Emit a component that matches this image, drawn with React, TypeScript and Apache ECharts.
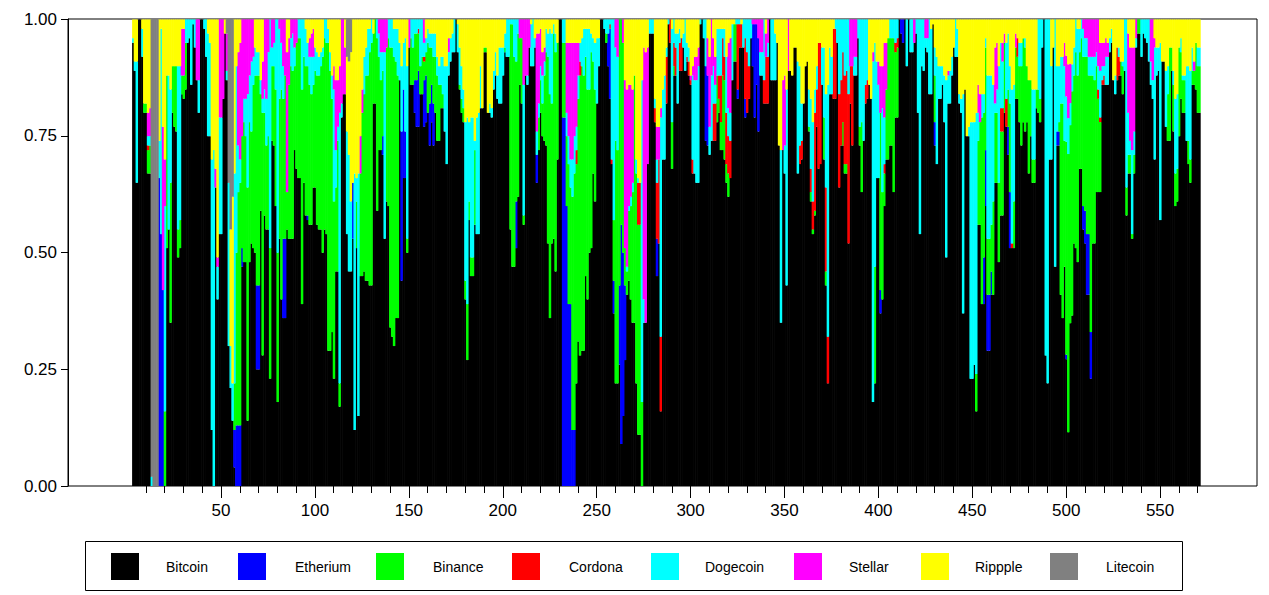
import React, { useEffect, useRef } from "react";
import * as echarts from "echarts";

// ---------- data (percent shares per bar) ----------
const seriesNames = ["Bitcoin", "Etherium", "Binance", "Cordona", "Dogecoin", "Stellar", "Rippple", "Litecoin"];
const seriesColors = ["#000000", "#0000ff", "#00ff00", "#ff0000", "#00ffff", "#ff00ff", "#ffff00", "#808080"];

// bar index where each block of values starts
const blockStarts = [0, 50, 102, 155, 207, 259, 311, 363, 415, 467, 519];
const barCount = 569;
const firstBarNumber = 3;

const yTicks = [0, 0.25, 0.5, 0.75, 1];
const xMinorTicks = [10, 20, 30, 40, 50, 60, 70, 80, 90, 100, 110, 120, 130, 140, 150, 160, 170, 180, 190, 200, 210, 220, 230, 240, 250, 260, 270, 280, 290, 300, 310, 320, 330, 340, 350, 360, 370, 380, 390, 400, 410, 420, 430, 440, 450, 460, 470, 480, 490, 500, 510, 520, 530, 540, 550, 560, 570];
const xMajorTicks = [50, 100, 150, 200, 250, 300, 350, 400, 450, 500, 550];

const bitcoin = [
  [95,89,65,100,100,92,80,80,67,67, 0,0,0,0,0,0,0,0,51,55, 35,80,77,76,49,51,84,83,85,95, 96,86,99,94,87,80,100,100,98,92, 75,75,12,0,64,40,54,54,83,97],
  [87,30,21,14,4,0,0,0,47,48, 48,14,48,52,51,50,25,25,59,28, 58,55,55,23,74,73,60,18,53,40, 36,36,55,53,53,53,72,68,66,66, 39,65,58,57,56,56,64,64,56,55, 55,50],
  [55,54,29,29,33,23,46,46,17,79, 84,84,54,46,46,53,12,51,15,45, 45,46,44,44,43,43,82,82,59,72, 72,71,53,61,60,34,32,30,36,36, 87,44,66,66,50,94,86,86,80,77, 77,84,84],
  [77,78,80,73,78,73,80,74,74,81, 81,76,69,88,91,93,93,100,93,85, 80,78,40,27,57,45,45,56,54,54, 81,81,93,93,80,80,79,85,88,83, 82,82,88,93,92,92,55,47,47,51, 62,86],
  [82,56,88,86,94,90,90,94,65,72, 80,75,74,73,52,36,52,53,46,70, 100,100,0,0,0,0,0,0,0,22, 31,28,29,29,45,40,50,51,67,61, 82,90,100,100,98,95,90,83,69,37, 22,22],
  [26,9,15,27,41,44,40,35,35,22, 11,11,0,35,35,69,97,97,97,78, 45,52,16,70,70,82,99,95,68,88, 88,82,89,89,94,89,91,88,86,67, 67,65,65,99,100,96,74,73,71,74, 74,74],
  [78,80,72,72,70,65,62,66,87,91, 91,83,94,94,94,79,80,83,96,90, 79,86,76,88,88,82,82,82,100,87, 87,87,95,73,35,72,67,43,89,89, 88,94,94,67,69,70,82,90,91,76, 61,54],
  [58,77,68,69,86,70,43,22,84,84, 83,83,95,64,73,73,67,67,52,82, 73,88,88,96,73,63,74,82,83,86, 83,18,22,66,66,37,40,60,70,70, 73,73,63,79,79,100,97,95,100,90, 100,93],
  [93,95,97,80,54,90,89,94,93,84, 84,99,73,69,83,83,86,78,49,82, 82,88,94,92,92,82,80,37,85,75, 75,23,23,26,16,56,56,39,39,60, 29,29,41,41,65,65,48,58,58,80, 77,71],
  [51,51,51,83,83,78,73,78,76,78, 67,75,65,65,81,80,78,94,100,28, 22,70,70,94,47,73,73,41,36,47, 28,12,37,38,52,51,48,68,68,55, 52,41,41,23,52,52,63,63,63,86, 86,86],
  [86,93,95,87,84,87,88,88,84,89, 58,67,67,53,67,94,97,97,92,97, 96,95,91,86,83,70,88,89,57,91, 91,77,74,74,89,76,60,61,75,83, 80,80,74,69,65,86,86,85,80,80],
];

const etherium = [
  [0,0,0,0,0,0,0,0,0,0, 0,0,0,0,66,54,42],
  [0,0,0,0,8,13,13,13,4,0, 0,0,0,0,0,0,18,18,0,0, 0,0,0,0,0,0,0,0,0,0, 17,17,0,0,0,0,0,0,0,0, 0,0,0,1],
  [0,0,0,0,0,0,0,0,0,0, 0,0,0,0,0,12,0,0,0,0, 0,0,0,0,0,0,0,0,0,0, 0,4,0,0,0,0,0,0,0,0, 0,32,19,10,0,0,0,0,7,10, 12],
  [10,10,0,9,8,9,0,0,0,0, 0,0,0,0,0,0,0,0,0,0, 0,0,0,0,0,0,0,0,0,0, 0,0,0,0,0,0,0,0,0,0, 0,0,0,0,0,0,0,0,0,10],
  [0,0,0,0,0,0,0,0,6,0, 0,0,0,0,0,0,0,0,0,0, 0,0,79,79,60,39,39,12,12,0, 0,0,0,0,0,0,0,0,0,0, 0,0,0,0,0,0,7,15,0,7],
  [17,47,35,16,0,0,0,0,0,0, 0,0,0,0,0,0,0,0,0,0, 8,0,0,0,0,0,0,0,0,0, 0,0,0,0,0,0,0,0,0,0, 0,0,0,0,0,0,16,15],
  [0,0,0,0,0,0,0,0,0,0, 0,2,0,0,0,4,0,0,0,9, 20,13,20],
  [0,0,0,0,0,0,0,0,0,0, 0,0,0,0,0,0,0,0,0,0, 0,0,0,0,0,0,0,0,0,0, 0,0,0,0,0,5,0,0,0,0, 0,0,0,0,0,0,3,5],
  [0,0,0,0,0,0,0,0,0,0, 0,0,5,0,0,0,0,0,0,0, 0,0,0,0,0,0,0,0,0,0, 0,0,0,0,0,0,0,0,10,12, 12,12,5,0,0,0,0,0,0,0, 0,6],
  [12,0,0,0,0,0,0,0,0,0, 0,0,0,0,0,0,0,0,0,0, 0,0,0,0,0,3,3,0,0,0, 1,0,0,0,0,0,0,0,0,5, 7,13,13,10],
  [],
];

const binance = [
  [0,0,0,0,0,0,2,2,5,6, 0,0,0,0,0,0,0,16,37,0, 30,10,13,14,6,6,4,5,10,0, 0,0,0,0,0,0,0,0,0,0, 0,0,0,0,0,0,0,0,0,0],
  [0,0,0,0,10,37,50,52,24,30, 27,50,30,24,35,38,45,45,25,52, 22,18,20,28,16,17,25,32,30,45, 30,35,8,33,37,36,18,27,30,30, 46,27,32,32,30,28,22,25,32,33, 35,42],
  [41,41,66,60,50,38,18,28,5,0, 0,0,0,0,0,0,0,10,0,22, 35,38,44,44,50,52,15,18,37,20, 15,14,0,33,36,60,62,62,55,52, 0,0,0,0,3,0,10,8,10,10, 8,6,8],
  [4,5,15,12,8,10,12,14,12,5, 3,0,0,0,0,0,0,0,0,1, 3,3,4,12,4,4,4,16,0,0, 0,0,1,1,0,0,0,0,0,0, 0,0,0,1,0,0,44,52,45,30, 35,10],
  [14,2,0,0,0,0,0,0,0,7, 7,7,14,20,40,48,30,44,47,25, 0,0,16,16,15,30,25,50,55,47, 52,60,61,59,47,45,35,42,24,24, 0,0,0,0,0,2,0,0,0,13, 52,50],
  [57,44,45,8,5,15,20,28,53,45, 45,45,18,0,0,0,0,0,0,0, 0,0,0,0,0,0,0,0,10,2],
  [10,3,6,16,17,4,5,0,0,8, 8,0,0,0,0,0,0,0,0,0, 0,0,0,0,0,0,0,0,0,0, 0,0,0,0,0,0,0,0,0,0, 0,0,0,0,0,0,0,0,0,1, 2,1],
  [1,0,0,0,0,9,3,0,0,0, 0,0,0,0,0,5,2,2,0,0, 0,0,0,0,4,15,0,0,0,0, 0,0,25,0,0,38,23,7,15,26, 23,23,33,14,15,0,0,0,0,0, 0,0],
  [0,0,0,0,0,0,0,0,0,0, 0,0,10,0,0,0,0,0,0,0, 0,0,0,0,0,0,0,0,0,0, 0,0,0,0,8,18,22,40,31,22, 12,12,10,20,15,15,17,18,18,15, 0,8],
  [19,0,10,11,9,12,17,18,18,12, 20,12,5,5,4,5,5,0,0,0, 0,0,0,0,0,0,2,41,46,27, 47,62,45,50,36,42,40,25,28,32, 33,38,34,55,36,35,27,20,15,0, 0,0],
  [0,0,0,0,0,0,0,3,6,0, 6,4,4,1,4,0,3,3,0,0, 0,0,0,0,0,0,0,0,0,0, 0,0,10,20,5,10,7,7,19,10, 7,7,0,5,5,3,3,10,10,10],
];

const cordona = [
  [0,0,0,0,0,0,0,0,1],
  [],
  [0,0,0,0,0,0,0,0,0,0, 0,0,0,0,0,0,0,0,0,0, 0,0,0,0,0,0,0,0,0,0, 0,0,0,0,0,0,0,0,0,0, 0,0,0,0,0,0,0,0,0,0, 1],
  [1],
  [0,0,0,0,0,0,0,0,0,0, 0,0,0,0,0,0,0,0,0,0, 0,0,0,0,0,0,0,0,0,3, 0,3,0,0,0,0,0,0,0,0, 0,0,0,0,0,0,0,1,1],
  [0,0,0,0,0,0,0,0,0,0, 9,9,0,0,0,0,0,0,0,3, 12,18,16,0,0,10,0,5,0,5, 6,0,6,7,0,0,1,3,1,3, 0,0,0,0,0,0,0,0,0,0, 8,8],
  [0,5,10,8,5,11,8,8,0,0, 0,14,5,5,0,13,13,7,0,0, 0,0,0,0,0,5,10,10,0,0, 0,0,0,0,0,0,0,0,0,0, 0,0,0,0,4,4,0,0,0,0, 5,6],
  [21,8,27,26,0,0,18,10,0,0, 15,15,0,20,14,15,19,20,32,8, 17,0,0,0,0,0,0,4,4,0, 0,0,0,0,0,0,0,2,0,0, 0,0,0,2,2],
  [0,0,0,0,0,0,0,0,0,0, 0,0,0,0,0,0,0,0,0,0, 0,0,0,0,0,0,0,0,0,0, 0,0,0,0,0,0,0,0,0,0, 0,0,0,0,0,0,0,5,5,0, 6],
  [0,1,0,0,4,0,0,0,0,0, 0,0,0,0,0,0,0,0,0,0, 0,0,0,0,0,0,0,0,0,0, 0,0,0,0,0,0,0,0,0,0, 0,0,0,0,0,0,0,2,1,1, 2],
  [0,0,0,0,0,7,4],
];

const dogecoin = [
  [1,2,26,0,0,6,0,0,2,2, 2,0,0,0,8,44,0,44,0,33, 20,0,0,0,35,33,0,0,5,5, 4,14,1,6,0,7,0,0,2,8, 22,20,58,72,0,7,25,25,0,0],
  [2,35,9,8,45,40,10,5,0,5, 8,20,10,15,6,6,5,5,3,3, 5,10,18,49,4,5,15,50,15,10, 7,0,0,0,6,8,4,0,4,4, 15,8,8,5,6,8,6,5,5,4, 3,2],
  [4,5,3,4,5,24,8,3,58,3, 0,0,22,25,15,0,55,5,52,0, 0,8,6,10,5,5,0,0,4,5, 6,4,40,0,4,6,6,6,7,10, 8,14,10,20,37,0,4,6,3,3, 2,10,8],
  [3,3,3,3,3,5,5,4,4,6, 8,14,21,5,5,4,7,0,6,8, 7,4,34,40,17,30,30,2,25,26, 9,0,0,0,0,2,2,4,5,5, 12,12,6,3,8,8,1,1,8,9, 3,0],
  [0,28,0,2,0,9,10,2,5,3, 3,6,3,5,5,14,15,2,4,0, 0,0,5,5,5,6,6,8,8,5, 5,4,6,10,6,13,13,4,5,10, 14,6,0,0,2,3,3,1,30,43, 20,20],
  [0,0,0,0,1,1,2,2,0,3, 1,0,69,5,0,0,3,3,3,2, 5,0,47,15,18,2,1,0,20,5, 3,15,3,0,3,11,3,3,0,18, 20,22,25,1,0,4,10,0,6,14, 8,4],
  [10,10,10,2,6,12,6,6,12,0, 1,1,1,0,6,4,7,10,4,0, 0,0,0,5,5,13,0,3,0,13, 13,10,0,0,37,0,6,42,0,0, 0,0,0,24,17,8,0,0,0,8, 15,17],
  [5,5,0,0,8,15,20,54,10,8, 0,2,5,16,13,7,12,11,16,0, 0,4,4,4,23,22,26,14,13,0, 0,73,48,25,20,0,18,10,0,0, 4,4,4,5,4,0,0,0,0,10, 0,7],
  [7,0,3,20,46,10,11,2,3,16, 14,0,6,23,7,7,4,10,38,6, 7,4,0,8,6,2,3,47,0,0, 2,55,55,52,56,6,0,5,4,2, 35,35,32,25,2,5,25,14,10,0, 12,12],
  [8,33,25,0,0,5,5,0,2,0, 0,0,15,15,0,15,17,6,0,72, 78,30,20,0,53,14,12,10,10,16, 10,8,5,6,6,7,10,5,4,6, 4,4,4,4,4,5,3,5,10,3, 2,6],
  [6,3,3,0,4,0,2,0,1,11, 36,9,3,18,5,2,0,0,8,3, 4,5,9,5,4,24,6,5,38,0, 0,12,6,0,0,3,16,16,0,3, 1,1,16,16,19,5,0,0,4,4],
];

const stellar = [
  [0,0,0,0,0,0,0,0,5,6, 0,0,0,0,0,0,35,10,0,0, 0,0,0,0,0,0,10,10,0,0, 0,0,0,0,13,13,0,0,0,0, 0,0,0,0,4,2,21,21,17,0],
  [8,0,0,0,0,0,20,25,25,17, 17,16,12,9,8,0,0,0,0,8, 15,17,7,0,6,5,0,0,2,5, 10,12,30,10,4,3,6,5,0,0, 0,0,0,0,4,5,6],
  [0,0,0,0,0,5,15,10,10,18, 16,10,0,0,0,0,0,0,0,8, 5,0,0,0,0,0,0,0,0,3, 7,7,7,6,0,0,0,0,0,0, 0,0,0,0,0,6],
  [5,0,0,0,0,0,0,0,0,0, 0,0,0,3,0,0,0,0,0,0, 0,0,0,0,0,0,0,0,0,0, 0,0,0,0,0,0,0,0,0,0, 0,0,0,0,0,0,0,0,0,0, 0,4],
  [4,14,12,12,6,0,0,0,21,15, 8,5,3,0,0,0,0,0,0,0, 0,0,0,0,15,20,25,25,20,18, 7,0,0,0,0,0,0,0,0,0, 0,0,0,0,0,0,0,0,0,0, 6,8],
  [0,0,5,36,38,26,24,20,0,0, 0,0,0,54,58,25,0,0,0,0, 7,7,2,0,0,0,0,0,0,0, 0,0,0,0,0,0,0,0,1,2, 5,5,4,0,0,0,0,8,15,12, 6,6],
  [0,0,0,0,0,0,14,16,0,0, 0,0,0,0,0,0,0,0,0,1, 1,1,4,7,7,0,5,5,0,0, 0,0,0,0,0,15,15,0,11],
  [0,0,0,0,0,0,0,0,0,0, 0,0,0,0,0,0,0,0,0,10, 10,8,8,0,0,0,0,0,0,0, 0,2,0,0,5,10,9,16,10],
  [0,5,0,0,0,0,0,4,4,0, 0,0,0,0,0,0,0,0,0,1, 0,0,0,0,0,0,0,0,0,0, 0,0,0,0,0,6,6,0,0,0, 0,0,0,0,12,10,0,0,4,2],
  [0,0,0,3,0,0,0,0,0,0, 0,0,0,0,0,0,0,0,0,0, 0,0,0,0,0,0,0,0,0,5, 9,12,9,0,0,0,0,0,0,2, 4,4,8,8,8,8,7,10,6,5, 5,4],
  [3,0,0,0,0,0,0,0,0,0, 0,17,20,22,18,4,0,0,0,0, 0,0,0,9,13,2,0,0,0,0, 0,0,0,0,0,0,0,0,0,0, 0,0,0,0,0,0,2],
];

const ripple = [
  [4,9,9,0,0,2,18,18,20,19, 0,0,0,0,26,2,23,30,12,12, 15,10,10,10,10,10,2,2,0,0, 0,0,0,0,0,0,0,0,0,0, 3,5,30,28,32,51,0,0,0,3],
  [0,0,25,40,33,10,7,5,0,0, 0,0,0,0,0,6,7,7,13,9, 0,0,0,0,0,0,0,0,0,0, 0,0,7,4,0,0,0,0,0,0, 0,0,2,5,4,3,2,6,7,8, 7,6],
  [0,0,2,7,12,10,13,13,10,0, 0,6,16,20,32,35,33,34,33,25, 15,8,6,2,2,0,3,0,0,0, 0,0,0,0,0,0,0,2,2,2, 5,10,5,4,10,0,0,0,0,0, 0,0,0],
  [0,4,2,3,3,3,3,8,10,8, 8,10,10,4,4,3,0,0,1,6, 10,15,22,21,22,21,21,26,21,20, 10,19,6,6,20,18,19,11,7,12, 6,6,6,3,0,0,0,0,0,0, 0,0],
  [0,0,0,0,0,1,0,4,3,3, 2,7,6,2,3,2,3,1,3,5, 0,0,0,0,5,5,5,5,5,5, 5,5,4,2,2,2,2,3,4,5, 4,4,0,0,0,0,0,0,0,0, 0,0],
  [0,0,0,13,15,14,14,15,12,30, 34,35,13,6,7,6,0,0,0,17, 23,23,19,15,12,6,0,0,2,0, 3,3,2,4,3,0,5,6,12,10, 8,8,6,0,0,0,0,4,8,0, 4,8],
  [2,2,2,2,2,8,5,4,1,1, 0,0,0,1,0,0,0,0,0,0, 0,0,0,0,0,0,3,0,0,0, 0,3,5,27,28,13,12,15,0,11, 12,6,6,9,10,18,18,10,9,15, 17,22],
  [15,10,5,5,6,6,16,14,6,8, 2,0,0,0,0,0,0,0,0,0, 0,0,0,0,0,0,0,0,0,14, 17,7,5,9,9,10,10,5,5,4, 0,0,0,0,0,0,0,0,0,0, 0,0],
  [0,0,0,0,0,0,0,0,0,0, 2,1,6,8,10,10,10,12,13,11, 11,8,6,0,2,16,17,16,15,25, 23,22,22,22,20,14,16,16,16,4, 12,12,12,14,6,5,10,5,5,3, 5,3],
  [10,15,14,3,4,5,5,4,4,10, 13,13,15,15,15,0,0,0,0,0, 0,0,10,6,0,10,10,8,8,5, 8,10,10,10,6,0,2,2,0,0, 0,0,0,0,0,0,0,0,5,5, 5,4],
  [5,4,2,13,12,6,6,9,9,0, 0,3,6,6,6,0,0,0,0,0, 0,0,0,0,0,4,6,6,5,9, 9,11,10,6,6,11,17,16,6,4, 12,12,10,10,11,6,9,5,6,6],
];

const litecoin = [
  [0,0,0,0,0,0,0,0,0,0, 98,100,100,100],
  [3,35,45,38],
  [0,0,0,0,0,0,0,0,0,0, 0,0,8,9,7],
  [], [], [], [], [], [], [], [],
];

// ---------- layout / style ----------
const FONT = "'Liberation Sans', Arial, Helvetica, sans-serif";
const legendSquareX = [111, 238, 376, 512, 651, 794, 921, 1050];
const legendTextX = [166, 295, 433, 569, 705, 849, 975, 1106];

function flatten(blocks: number[][]): number[] {
  const out: number[] = [];
  for (let i = 0; i < barCount; i++) out.push(0);
  blocks.forEach((block, k) => {
    const start = blockStarts[k];
    const end = k + 1 < blockStarts.length ? blockStarts[k + 1] : barCount;
    block.forEach((v, i) => {
      const idx = start + i;
      if (idx < end) out[idx] = v;
    });
  });
  return out;
}

export default function App() {
  const ref = useRef<HTMLDivElement>(null);

  useEffect(() => {
    document.body.style.margin = "0";
    if (!ref.current) return;
    const chart = echarts.init(ref.current, undefined, { renderer: "svg" });

    const raw = [bitcoin, etherium, binance, cordona, dogecoin, stellar, ripple, litecoin].map(flatten);
    const totals = raw[0].map((_, j) => raw.reduce((s, arr) => s + arr[j], 0) || 1);
    const categories = raw[0].map((_, j) => String(firstBarNumber + j));

    // axis frame: data units of the plot box (x from -31.5 to 601.6)
    const xMin = -31.5;
    const xMax = 601.6;

    const series = raw.map((arr, si) => ({
      name: seriesNames[si],
      type: "bar",
      stack: "share",
      xAxisIndex: 2,
      yAxisIndex: 1,
      barWidth: 2.5,
      itemStyle: { color: seriesColors[si] },
      emphasis: { disabled: true },
      data: arr.map((v, j) => v / totals[j]),
    }));

    const graphic: any[] = [
      {
        type: "rect",
        shape: { x: 85.5, y: 541.5, width: 1097, height: 49 },
        style: { fill: "none", stroke: "#000", lineWidth: 1 },
        silent: true,
      },
    ];
    seriesNames.forEach((name, i) => {
      graphic.push({
        type: "rect",
        shape: { x: legendSquareX[i], y: 553, width: 28, height: 27 },
        style: { fill: seriesColors[i] },
        silent: true,
      });
      graphic.push({
        type: "text",
        x: legendTextX[i],
        y: 566.5,
        style: { text: name, fontSize: 14, fontFamily: FONT, fill: "#000", verticalAlign: "middle", align: "left" },
        silent: true,
      });
    });

    const option: any = {
      animation: false,
      backgroundColor: "#ffffff",
      grid: [
        {
          left: 68,
          right: 12,
          top: 19,
          bottom: 109,
          show: true,
          borderColor: "#000",
          borderWidth: 1,
          backgroundColor: "transparent",
        },
        {
          left: 132.1,
          right: 68.3,
          top: 19.5,
          bottom: 109,
          show: false,
        },
      ],
      xAxis: [
        {
          type: "value",
          gridIndex: 0,
          min: xMin,
          max: xMax,
          position: "bottom",
          axisLine: { show: false, onZero: false },
          splitLine: { show: false },
          axisTick: { show: true, customValues: xMinorTicks, length: 7, lineStyle: { color: "#000" } },
          axisLabel: { show: false },
        },
        {
          type: "value",
          gridIndex: 0,
          min: xMin,
          max: xMax,
          position: "bottom",
          axisLine: { show: false, onZero: false },
          splitLine: { show: false },
          axisTick: { show: true, customValues: xMajorTicks, length: 12, lineStyle: { color: "#000" } },
          axisLabel: {
            show: true,
            customValues: xMajorTicks,
            margin: 16,
            fontSize: 17,
            fontFamily: FONT,
            color: "#000",
            verticalAlign: "top",
          },
        },
        {
          type: "category",
          gridIndex: 1,
          data: categories,
          boundaryGap: true,
          show: false,
          axisLine: { onZero: false },
        },
      ],
      yAxis: [
        {
          type: "value",
          gridIndex: 0,
          min: 0,
          max: 1,
          interval: 0.25,
          position: "left",
          axisLine: { show: true, onZero: false, lineStyle: { color: "#000" } },
          axisTick: { show: true, length: 7, lineStyle: { color: "#000" } },
          splitLine: { show: false },
          axisLabel: {
            margin: 11,
            fontSize: 17,
            fontFamily: FONT,
            color: "#000",
            formatter: (v: number) => v.toFixed(2),
          },
        },
        {
          type: "value",
          gridIndex: 1,
          min: 0,
          max: 1,
          show: false,
          axisLine: { onZero: false },
          splitLine: { show: false },
        },
      ],
      series,
      graphic,
    };

    chart.setOption(option);
    return () => chart.dispose();
  }, []);

  return <div ref={ref} style={{ width: 1269, height: 595 }} />;
}
